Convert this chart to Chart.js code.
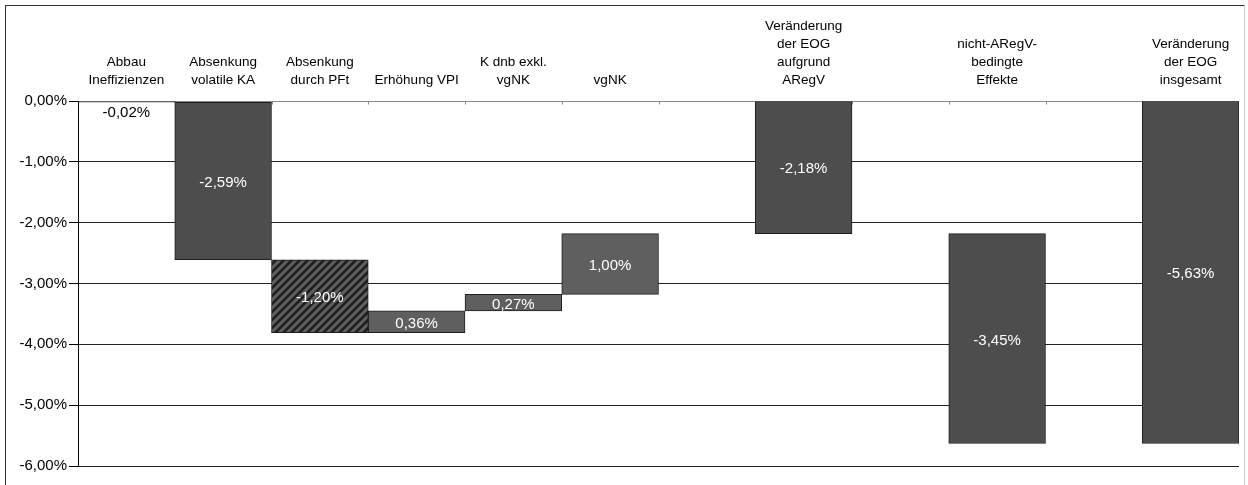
<!DOCTYPE html>
<html>
<head>
<meta charset="utf-8">
<script src="https://cdn.jsdelivr.net/npm/chart.js@4.4.1/dist/chart.umd.min.js"></script>
<style>
  html, body { margin: 0; padding: 0; background: #fff; }
  #wrap { position: relative; width: 1248px; height: 485px; overflow: hidden; }
  #frame { position: absolute; left: 5px; top: 5px; width: 1240px; height: 500px;
    border: 1px solid #333; border-right-color: #d0d0d0; box-sizing: border-box; }
  canvas { position: absolute; left: 0; top: 0; }
</style>
</head>
<body>
<div id="wrap">
  <div id="frame"></div>
  <canvas id="chart" width="1248" height="485"></canvas>
</div>
<script>
// categories (empty strings are the gaps between groups)
const categories = [
  ['Abbau', 'Ineffizienzen'],
  ['Absenkung', 'volatile KA'],
  ['Absenkung', 'durch PFt'],
  'Erhöhung VPI',
  ['K dnb exkl.', 'vgNK'],
  'vgNK',
  '',
  ['Veränderung', 'der EOG', 'aufgrund', 'ARegV'],
  '',
  ['nicht-ARegV-', 'bedingte', 'Effekte'],
  '',
  ['Veränderung', 'der EOG', 'insgesamt'],
]

// waterfall: where each bar starts and ends (in %)
const barFrom = [0, -0.02, -2.61, -3.81, -3.45, -3.18, null, 0, null, -2.18, null, 0]
const barTo = [-0.02, -2.61, -3.81, -3.45, -3.18, -2.18, null, -2.18, null, -5.63, null, -5.63]

// which bar gets the hatched fill
const hatched = [false, false, true, false, false, false, false, false, false, false, false, false]

const yTicks = [0, -1, -2, -3, -4, -5, -6]

const FONT = "'Liberation Sans', Arial, sans-serif"
const fmt = (v) => {
  const s = Math.abs(v).toFixed(2).replace('.', ',')
  return (v < -0.0001 ? '-' : '') + s + '%'
}

const makeHatch = () => {
  const c = document.createElement('canvas')
  c.width = 8
  c.height = 8
  const g = c.getContext('2d')
  g.fillStyle = '#5e5e5e'
  g.fillRect(0, 0, 8, 8)
  g.strokeStyle = '#1e1e1e'
  g.lineWidth = 2.6
  g.beginPath()
  g.moveTo(-2, 10); g.lineTo(10, -2)
  g.moveTo(-6, 6); g.lineTo(6, -6)
  g.moveTo(2, 14); g.lineTo(14, 2)
  g.stroke()
  return g.createPattern(c, 'repeat')
}
const hatch = makeHatch()

const fills = barFrom.map((f, i) => {
  if (f === null) return 'rgba(0,0,0,0)'
  if (hatched[i]) return hatch
  return barTo[i] > f ? '#5f5f5f' : '#4d4d4d'
})

const data = barFrom.map((f, i) => (f === null ? null : [f, barTo[i]]))

const boundaryTicks = {
  id: 'boundaryTicks',
  beforeDatasetsDraw(chart) {
    const x = chart.scales.x
    const y = chart.scales.y
    const ctx = chart.ctx
    const half = (x.getPixelForValue(1) - x.getPixelForValue(0)) / 2
    const y0 = Math.round(y.getPixelForValue(0)) + 0.5
    ctx.save()
    ctx.strokeStyle = '#888'
    ctx.lineWidth = 1
    ctx.beginPath()
    for (let i = 1; i < categories.length; i++) {
      const px = Math.round(x.getPixelForValue(i) - half) + 0.5
      ctx.moveTo(px, y0)
      ctx.lineTo(px, y0 + 3)
    }
    ctx.stroke()
    ctx.restore()
  },
}

const valueLabels = {
  id: 'valueLabels',
  afterDatasetsDraw(chart) {
    const meta = chart.getDatasetMeta(0)
    const y = chart.scales.y
    const ctx = chart.ctx
    ctx.save()
    ctx.font = '15px ' + FONT
    ctx.textAlign = 'center'
    ctx.textBaseline = 'middle'
    meta.data.forEach((bar, i) => {
      if (barFrom[i] === null) return
      const delta = barTo[i] - barFrom[i]
      const top = y.getPixelForValue(Math.max(barFrom[i], barTo[i]))
      const bottom = y.getPixelForValue(Math.min(barFrom[i], barTo[i]))
      let cy = (top + bottom) / 2 + 2
      let color = '#fff'
      if (bottom - top < 10) {
        cy = bottom + 11
        color = '#000'
      }
      ctx.fillStyle = color
      ctx.fillText(fmt(delta), bar.x, cy)
    })
    ctx.restore()
  },
}

new Chart(document.getElementById('chart').getContext('2d'), {
  type: 'bar',
  data: {
    labels: categories,
    datasets: [{
      data,
      backgroundColor: fills,
      borderColor: '#1e1e1e',
      borderWidth: 1,
      borderSkipped: false,
      barPercentage: 1,
      categoryPercentage: 1,
    }],
  },
  options: {
    responsive: false,
    animation: false,
    layout: { padding: { left: 0, right: 9, top: 0, bottom: 19 } },
    scales: {
      x: {
        position: 'top',
        grid: { display: false },
        border: { display: false },
        ticks: {
          font: { family: FONT, size: 13.5, lineHeight: 1.33 },
          color: '#000',
          padding: 4,
          maxRotation: 0,
          autoSkip: false,
        },
        afterFit: (s) => { s.height = 101 },
      },
      y: {
        min: -6,
        max: 0,
        afterBuildTicks: (s) => { s.ticks = yTicks.map((v) => ({ value: v })) },
        grid: {
          color: (c) => (c.tick && c.tick.value === 0 ? '#888' : '#222'),
          tickColor: '#000',
          tickLength: 9,
        },
        border: { color: '#000' },
        ticks: {
          font: { family: FONT, size: 15 },
          color: '#000',
          padding: 2,
          callback: (v) => fmt(v),
        },
        afterFit: (s) => { s.width = 78 },
      },
    },
    plugins: {
      legend: { display: false },
      tooltip: { enabled: false },
    },
  },
  plugins: [boundaryTicks, valueLabels],
})
</script>
</body>
</html>
